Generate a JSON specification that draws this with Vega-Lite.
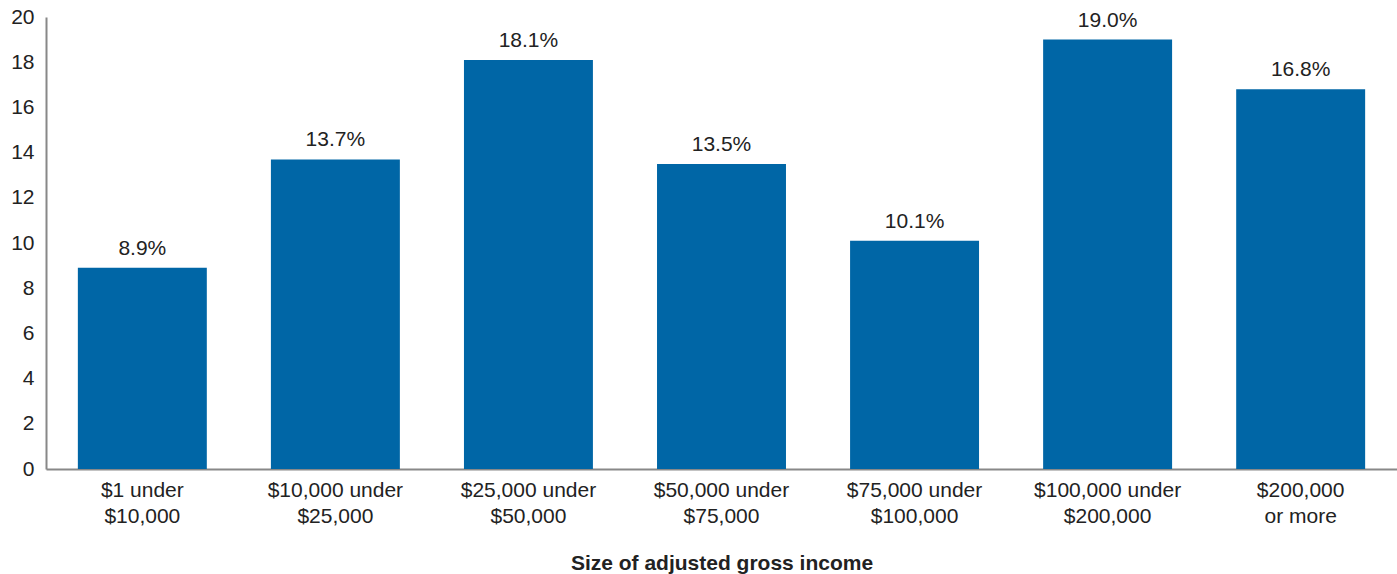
{
  "$schema": "https://vega.github.io/schema/vega-lite/v6.json",
  "width": 1351,
  "height": 452,
  "autosize": {"type": "none"},
  "padding": {"left": 46, "top": 17, "right": 0, "bottom": 105},
  "background": "white",
  "config": {
    "view": {"stroke": null},
    "font": "Liberation Sans",
    "text": {"font": "Liberation Sans"}
  },
  "data": {
    "values": [
      {"income": "$1 under|$10,000", "value": 8.9},
      {"income": "$10,000 under|$25,000", "value": 13.7},
      {"income": "$25,000 under|$50,000", "value": 18.1},
      {"income": "$50,000 under|$75,000", "value": 13.5},
      {"income": "$75,000 under|$100,000", "value": 10.1},
      {"income": "$100,000 under|$200,000", "value": 19.0},
      {"income": "$200,000|or more", "value": 16.8}
    ]
  },
  "transform": [
    {"calculate": "format(datum.value, '.1f') + '%'", "as": "lbl"}
  ],
  "encoding": {
    "x": {
      "field": "income",
      "type": "nominal",
      "sort": null,
      "scale": {"paddingInner": 0.332, "paddingOuter": 0.165},
      "axis": {
        "title": "Size of adjusted gross income",
        "titleFont": "Liberation Sans",
        "titleFontSize": 21,
        "titleFontWeight": "bold",
        "titleColor": "#222222",
        "titlePadding": 26,
        "labelExpr": "split(datum.label, '|')",
        "labelAngle": 0,
        "labelFont": "Liberation Sans",
        "labelFontSize": 21,
        "labelColor": "#222222",
        "labelLineHeight": 26,
        "labelPadding": 10,
        "ticks": false,
        "domainColor": "#888888",
        "domainWidth": 2,
        "grid": false
      }
    },
    "y": {
      "field": "value",
      "type": "quantitative",
      "scale": {"domain": [0, 20], "nice": false},
      "axis": {
        "title": null,
        "values": [0, 2, 4, 6, 8, 10, 12, 14, 16, 18, 20],
        "labelFont": "Liberation Sans",
        "labelFontSize": 21,
        "labelColor": "#222222",
        "labelPadding": 12,
        "ticks": false,
        "domainColor": "#888888",
        "domainWidth": 2,
        "grid": false
      }
    }
  },
  "layer": [
    {"mark": {"type": "bar", "color": "#0066A6"}},
    {
      "mark": {"type": "text", "baseline": "alphabetic", "dy": -13, "fontSize": 21, "color": "#222222", "font": "Liberation Sans"},
      "encoding": {"text": {"field": "lbl"}}
    }
  ]
}
